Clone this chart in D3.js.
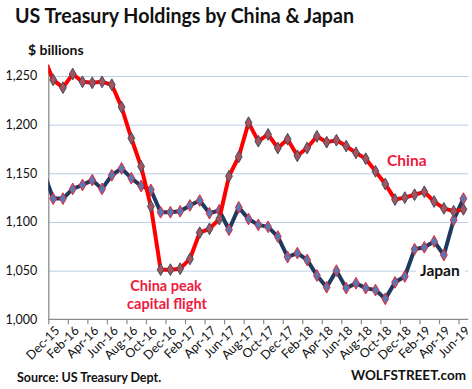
<!DOCTYPE html>
<html><head><meta charset="utf-8">
<script src="https://cdn.jsdelivr.net/npm/d3@7"></script>
<style>
body{margin:0;background:#fff;}
svg{display:block;font-family:Lato,"Open Sans",sans-serif;}
</style></head>
<body><svg id="c" width="472" height="389"></svg>
<script>
// Monthly, first entry (Nov-15) lies just left of the plot and is clipped
const months = ["Nov-15","Dec-15","Jan-16","Feb-16","Mar-16","Apr-16","May-16","Jun-16","Jul-16","Aug-16","Sep-16","Oct-16","Nov-16","Dec-16",
 "Jan-17","Feb-17","Mar-17","Apr-17","May-17","Jun-17","Jul-17","Aug-17","Sep-17","Oct-17","Nov-17","Dec-17",
 "Jan-18","Feb-18","Mar-18","Apr-18","May-18","Jun-18","Jul-18","Aug-18","Sep-18","Oct-18","Nov-18","Dec-18",
 "Jan-19","Feb-19","Mar-19","Apr-19","May-19","Jun-19"];
const china = [1270,1246,1238,1252,1244,1243,1244,1241,1218,1186,1157,1116,1051,1051,1052,1062,1089,1093,1103,1147,1167,1202,1183,1190,1176,1185,1168,1176,1188,1182,1184,1178,1171,1165,1152,1139,1123,1125,1128,1131,1121,1114,1111,1113];
const japan = [1152,1124,1124,1134,1138,1143,1134,1148,1155,1145,1137,1133,1110,1110,1111,1117,1122,1109,1112,1092,1115,1103,1097,1095,1085,1064,1068,1061,1045,1033,1050,1032,1037,1032,1030,1021,1038,1044,1072,1074,1080,1066,1102,1124];
const yTicks = [1000,1050,1100,1150,1200,1250];

const svg = d3.select("#c");
const L = 48.3, R = 468.3, T = 64.3, B = 319.3;
const x = d3.scaleLinear().domain([0.5, months.length - 0.5]).range([L, R]);
const y = d3.scaleLinear().domain([1000, 1262]).range([B, T]);

// gridlines
svg.append("g").attr("transform",`translate(${L},0)`)
  .call(d3.axisLeft(y).tickValues(yTicks.slice(1)).tickSize(-(R-L)).tickFormat(""))
  .call(g=>g.select(".domain").remove())
  .call(g=>g.selectAll("line").attr("stroke","#BCCEE6").attr("stroke-width",1));

// y axis
svg.append("g").attr("transform",`translate(${L},0)`)
  .call(d3.axisLeft(y).tickValues(yTicks).tickSize(0).tickPadding(11).tickFormat(d3.format(",")))
  .call(g=>g.select(".domain").attr("stroke","#8C8C8C").attr("stroke-width",1.3))
  .call(g=>g.selectAll("text").attr("font-size","12.5px").attr("fill","#111").attr("font-family","Lato"));

// x axis
const boundaries = d3.range(0.5, months.length - 0.5, 2);
svg.append("g").attr("transform",`translate(0,${B})`)
  .call(d3.axisBottom(x).tickValues(boundaries).tickSize(5).tickFormat(""))
  .call(g=>g.select(".domain").attr("stroke","#8C8C8C").attr("stroke-width",1.3).attr("d",`M${L},0H${R}`))
  .call(g=>g.selectAll("line").attr("stroke","#8C8C8C").attr("stroke-width",1.2));

const labelIdx = d3.range(1, months.length, 2);
svg.append("g").selectAll("text").data(labelIdx).join("text")
  .attr("transform", i=>`translate(${x(i)+4},${B+9}) rotate(-45)`)
  .attr("text-anchor","end").attr("dy","0.35em")
  .attr("font-size","12.5px").attr("fill","#111")
  .text(i=>months[i]);

// clip
svg.append("clipPath").attr("id","clip").append("rect")
  .attr("x",L).attr("y",T).attr("width",R-L).attr("height",B-T);

const line = d3.line().x((d,i)=>x(i)).y(d=>y(d));
const diamond = d3.symbol().type(d3.symbolDiamond).size(40);

function series(data, lineColor, fill, outline){
  const g = svg.append("g").attr("clip-path","url(#clip)");
  g.append("path").datum(data).attr("d",line).attr("fill","none")
    .attr("stroke",lineColor).attr("stroke-width",4).attr("stroke-linejoin","round");
  g.selectAll("path.m").data(data).join("path").attr("class","m")
    .attr("transform",(d,i)=>`translate(${x(i)},${y(d)})`)
    .attr("d",diamond).attr("fill",fill).attr("stroke",outline).attr("stroke-width",1);
}
series(japan, "#1F3A5F", "#5479B8", "#F0262E");
series(china, "#FF0000", "#A8525A", "#3E4C66");

// labels
svg.append("text").attr("x",15).attr("y",23).attr("font-size","21px").attr("font-weight","bold")
  .attr("fill","#111").attr("textLength",339).attr("lengthAdjust","spacingAndGlyphs")
  .text("US Treasury Holdings by China & Japan");
svg.append("text").attr("x",28).attr("y",55).attr("font-size","14px").attr("font-weight","bold")
  .attr("fill","#111").text("$ billions");

const red = "#EE1A3E";
svg.append("text").attr("x",166).attr("y",291).attr("text-anchor","middle").attr("font-size","14.5px")
  .attr("font-weight","bold").attr("fill",red).text("China peak");
svg.append("text").attr("x",167).attr("y",309).attr("text-anchor","middle").attr("font-size","14.5px")
  .attr("font-weight","bold").attr("fill",red).text("capital flight");
svg.append("text").attr("x",387).attr("y",166).attr("font-size","15.5px")
  .attr("font-weight","bold").attr("fill",red).text("China");
svg.append("rect").attr("x",416).attr("y",262).attr("width",49).attr("height",18).attr("fill","#fff");
svg.append("text").attr("x",420).attr("y",276).attr("font-size","15.5px")
  .attr("font-weight","bold").attr("fill","#111").text("Japan");

svg.append("text").attr("x",17).attr("y",382).attr("font-size","12.5px").attr("font-weight","bold")
  .attr("fill","#111").text("Source: US Treasury Dept.");
svg.append("text").attr("x",466).attr("y",380).attr("text-anchor","end").attr("font-size","13.5px")
  .attr("font-weight","bold").attr("fill","#111").text("WOLFSTREET.com");
</script></body></html>
